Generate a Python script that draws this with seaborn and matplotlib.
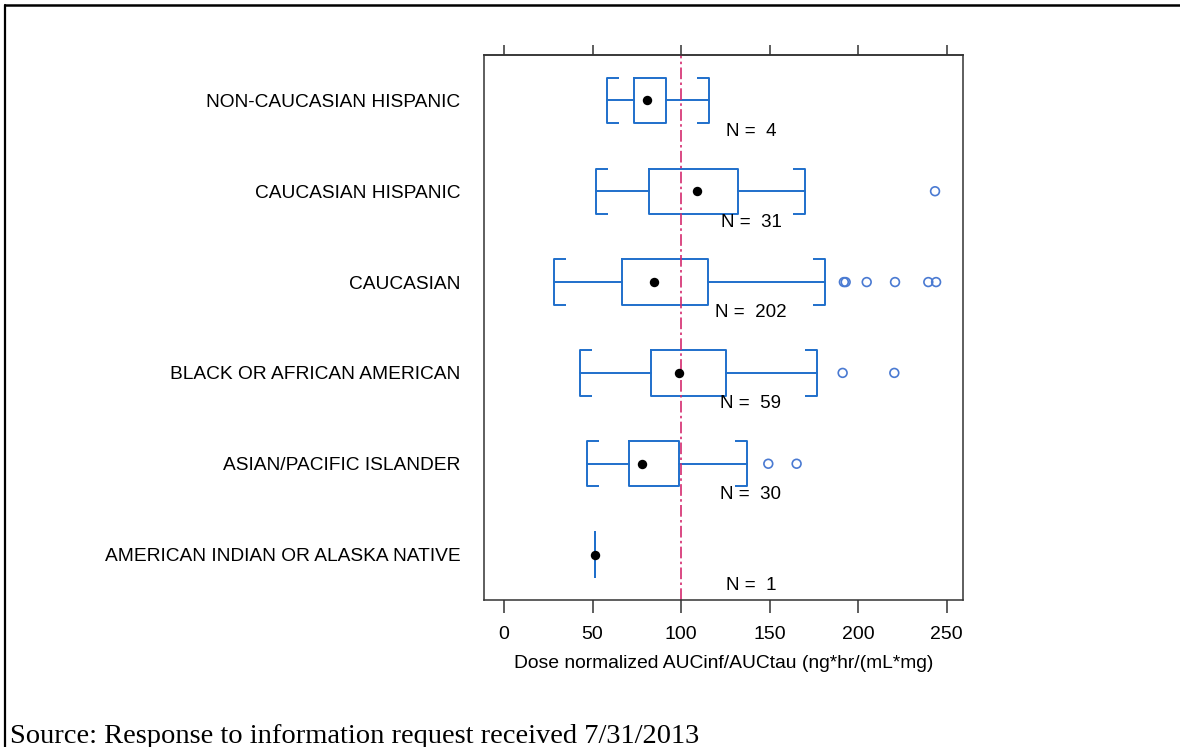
import matplotlib
matplotlib.use("Agg")
import matplotlib.pyplot as plt
from matplotlib.lines import Line2D
import numpy as np
import pandas as pd
import seaborn as sns

# Race/ethnicity groups, listed top to bottom
categories = [
    "NON-CAUCASIAN HISPANIC",
    "CAUCASIAN HISPANIC",
    "CAUCASIAN",
    "BLACK OR AFRICAN AMERICAN",
    "ASIAN/PACIFIC ISLANDER",
    "AMERICAN INDIAN OR ALASKA NATIVE",
]
n_subjects = [4, 31, 202, 59, 30, 1]

# Box statistics of dose normalized AUC (ng*hr/(mL*mg))
whisker_low = [58.0, 52.0, 28.2, 42.9, 47.1, 51.6]
q1 = [73.6, 81.9, 66.8, 82.9, 70.8, 51.6]
median = [81.0, 108.8, 84.9, 99.0, 78.1, 51.6]
q3 = [91.5, 132.4, 115.4, 125.2, 98.9, 51.6]
whisker_high = [116.0, 170.1, 181.4, 177.0, 137.1, 51.6]
outliers = [
    [],
    [243.5],
    [192.0, 193.0, 204.9, 220.9, 239.7, 244.1],
    [191.3, 220.5],
    [149.3, 165.3],
    [],
]

x_ticks = [0, 50, 100, 150, 200, 250]
reference_value = 100

# Styling
box_color = "#1f6fcb"
outlier_color = "#4a7ad2"
ref_color = "#d42a6e"
frame_color = "#333333"
box_width = 0.5
serif_len = 6.8
lw = 1.4

sns.set_theme(style="white")
plt.rcParams["font.family"] = ["Liberation Sans", "DejaVu Sans"]

fig = plt.figure(figsize=(11.8, 7.47), dpi=100)
ax = fig.add_axes([0.4102, 0.1968, 0.4059, 0.7296])

positions = np.arange(len(categories))

stats = []
for i, cat in enumerate(categories):
    stats.append(dict(label=cat, whislo=whisker_low[i], q1=q1[i], med=median[i],
                      q3=q3[i], whishi=whisker_high[i], fliers=[]))

ax.bxp(stats, positions=positions, widths=box_width, capwidths=box_width,
       orientation="horizontal", showfliers=False,
       boxprops=dict(color=box_color, linewidth=lw),
       whiskerprops=dict(color=box_color, linewidth=lw),
       capprops=dict(color=box_color, linewidth=lw),
       medianprops=dict(linewidth=0))

# Inward-pointing serifs on the whisker caps ("[" and "]")
half = box_width / 2
for i in range(len(categories)):
    if whisker_low[i] < q1[i]:
        ax.hlines([positions[i] - half, positions[i] + half],
                  whisker_low[i], whisker_low[i] + serif_len,
                  color=box_color, linewidth=lw)
    if whisker_high[i] > q3[i]:
        ax.hlines([positions[i] - half, positions[i] + half],
                  whisker_high[i] - serif_len, whisker_high[i],
                  color=box_color, linewidth=lw)

# Medians as solid dots
med_df = pd.DataFrame({"value": median, "pos": positions})
sns.scatterplot(data=med_df, x="value", y="pos", ax=ax, color="black",
                s=46, edgecolor="black", linewidth=0, zorder=4, legend=False)

# Outliers as open circles
out_rows = [(v, positions[i]) for i, vals in enumerate(outliers) for v in vals]
out_df = pd.DataFrame(out_rows, columns=["value", "pos"])
sns.scatterplot(data=out_df, x="value", y="pos", ax=ax, s=40,
                facecolor="none", edgecolor=outlier_color, linewidth=1.2,
                zorder=3, legend=False)

# Reference line
ax.axvline(reference_value, color=ref_color, linewidth=1.2,
           linestyle=(0, (7, 2, 1.5, 2)), zorder=2)

# Sample size labels
for i, n in enumerate(n_subjects):
    ax.text(139.5, positions[i] + 0.34, f"N =  {n}", ha="center", va="center",
            fontsize=13.5, color="black")

ax.set_xlim(-11.3, 259.3)
ax.set_ylim(len(categories) - 0.5, -0.5)

ax.set_xticks(x_ticks)
ax.set_xticklabels([str(t) for t in x_ticks], fontsize=14, color="black")
ax.set_yticks(positions)
ax.set_yticklabels(categories, fontsize=13.8, color="black")
ax.tick_params(axis="x", direction="out", length=9.5, width=1.1,
               color=frame_color, pad=9, bottom=True)
ax.tick_params(axis="y", length=0, pad=17)

top = ax.secondary_xaxis("top")
top.set_xticks(x_ticks)
top.tick_params(axis="x", direction="out", length=7, width=1.1,
                color=frame_color, labeltop=False)
top.spines["top"].set_color(frame_color)
top.spines["top"].set_linewidth(1.1)

for side in ["left", "right", "top", "bottom"]:
    ax.spines[side].set_visible(True)
    ax.spines[side].set_color(frame_color)
    ax.spines[side].set_linewidth(1.1)

ax.set_xlabel("Dose normalized AUCinf/AUCtau (ng*hr/(mL*mg)", fontsize=13.9,
              color="black", labelpad=9)
ax.set_ylabel("")
ax.grid(False)

# Page frame and caption
W, H = 1180, 747
fig.add_artist(Line2D([5 / W, 1.0], [1 - 5 / H, 1 - 5 / H], transform=fig.transFigure,
                      color="black", linewidth=1.8))
fig.add_artist(Line2D([5 / W, 5 / W], [0.0, 1 - 5 / H], transform=fig.transFigure,
                      color="black", linewidth=1.6))
fig.text(10 / W, 1 - 743 / H, "Source: Response to information request received 7/31/2013",
         family=["Liberation Serif", "DejaVu Serif"], fontsize=20.5,
         va="baseline", ha="left", color="black")

fig.savefig("out.png", dpi=100)
